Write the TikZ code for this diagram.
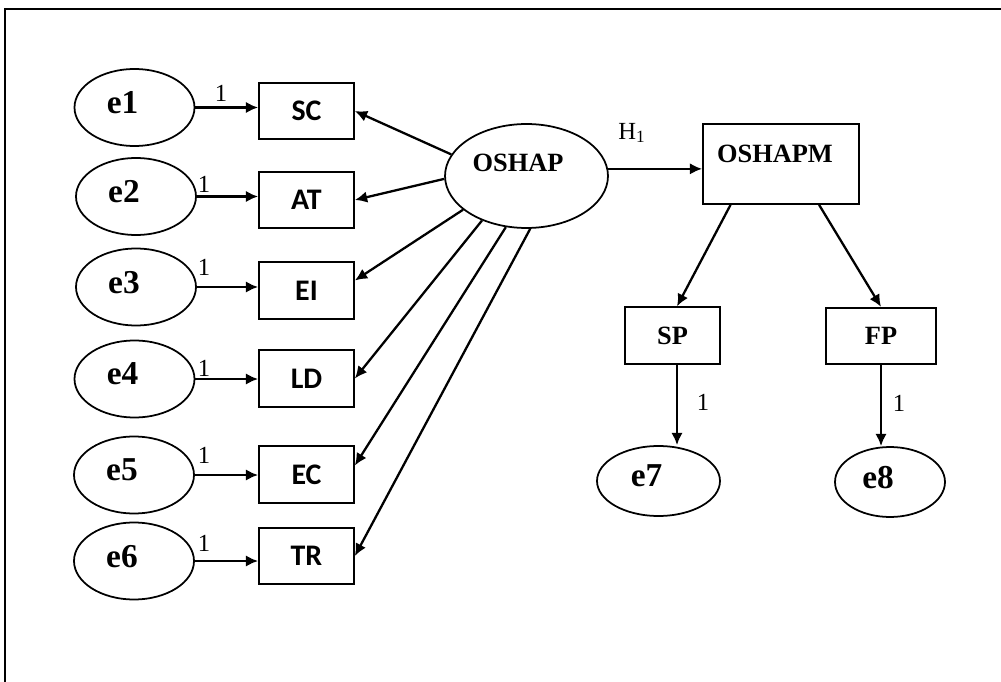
\documentclass[tikz,border=0pt]{standalone}
\usepackage{fontspec}
\setmainfont{Liberation Serif}
\newfontfamily\calibfont{Carlito}
\usetikzlibrary{positioning,shapes.geometric,arrows.meta}

\begin{document}
\begin{tikzpicture}[x=0.02cm, y=-0.02cm,
    errvar/.style={draw, ellipse, line width=1pt, minimum width=2.4cm, minimum height=1.54cm,
        inner sep=0pt, text depth=0.2cm, font=\fontsize{19}{19}\selectfont\bfseries,
        execute at end node={\hspace*{0.48cm}}},
    indic/.style={draw, rectangle, line width=1pt, minimum width=1.9cm, minimum height=1.13cm,
        inner sep=0pt, font=\calibfont\fontsize{17}{17}\selectfont\bfseries},
    outbox/.style={draw, rectangle, line width=1pt, minimum height=1.13cm, inner sep=0pt,
        font=\fontsize{15}{15}\selectfont\bfseries},
    boldtxt/.style={inner sep=0pt, font=\fontsize{15}{15}\selectfont\bfseries},
    one/.style={inner sep=0pt, font=\fontsize{14}{14}\selectfont},
    arr/.style={line width=1.3pt, -{Latex[length=7pt,width=6.5pt]}}]
    \useasboundingbox (0,0) rectangle (1001,682);

    % frame
    \draw[line width=1.5pt] (5,682) -- (5,9) -- (1001,9);

    % error terms
    \node[errvar] (e1) at (134.5,107.5) {e1};
    \node[errvar] (e2) at (136,196.5) {e2};
    \node[errvar] (e3) at (136,287) {e3};
    \node[errvar] (e4) at (134.5,379) {e4};
    \node[errvar] (e5) at (134,475) {e5};
    \node[errvar] (e6) at (134,561) {e6};

    % indicators
    \node[indic] (SC) at (306.5,111) {SC};
    \node[indic] (AT) at (306.5,200) {AT};
    \node[indic] (EI) at (306.5,290.5) {EI};
    \node[indic] (LD) at (306.5,378.5) {LD};
    \node[indic] (EC) at (306.5,474.5) {EC};
    \node[indic] (TR) at (306.5,556) {TR};

    % latent variable and mediator
    \node[draw, ellipse, line width=1pt, minimum width=3.26cm, minimum height=2.08cm] (OSHAP) at (526.5,176) {};
    \node[boldtxt] (OSHAPlbl) at (518,163) {OSHAP};
    \node[draw, rectangle, line width=1pt, minimum width=3.12cm, minimum height=1.6cm] (OSHAPM) at (781,164) {};
    \node[boldtxt] (OSHAPMlbl) at (775,154) {OSHAPM};

    \node[outbox, minimum width=1.9cm] (SP) at (672.5,335.5) {SP};
    \node[outbox, minimum width=2.2cm] (FP) at (881,336) {FP};
    \node[errvar, minimum width=2.46cm, minimum height=1.4cm] (e7) at (658.5,481) {e7};
    \node[errvar, minimum width=2.2cm, minimum height=1.4cm] (e8) at (890,482) {e8};

    % error paths
    \draw[arr] (e1) -- (e1 -| SC.west);
    \draw[arr] (e2) -- (e2 -| AT.west);
    \draw[arr] (e3) -- (e3 -| EI.west);
    \draw[arr] (e4) -- (e4 -| LD.west);
    \draw[arr] (e5) -- (e5 -| EC.west);
    \draw[arr] (e6) -- (e6 -| TR.west);
    \node[one] (w1) at (221,93) {1};
    \node[one] (w2) at (204,184) {1};
    \node[one] (w3) at (204,267) {1};
    \node[one] (w4) at (204,368) {1};
    \node[one] (w5) at (204,455) {1};
    \node[one] (w6) at (204,543) {1};

    % loadings
    \draw[arr] (OSHAP.164) -- (SC.east);
    \draw[arr] (OSHAP.182) -- (AT.east);
    \draw[arr] (OSHAP.208) -- ([yshift=0.2cm]EI.east);
    \draw[arr] (OSHAP.225) -- (LD.east);
    \draw[arr] (OSHAP.248) -- ([yshift=0.18cm]EC.east);
    \draw[arr] (OSHAP.274) -- (TR.east);

    % structural part
    \draw[arr] (OSHAP.5) -- (OSHAP.5 -| OSHAPM.west);
    \node[one] (h1) at (632,133) {H\textsubscript{1}};
    \draw[arr] (OSHAPM.219) -- ([xshift=0.09cm]SP.north);
    \draw[arr] (OSHAPM.313) -- (FP.north);
    \draw[arr] ([xshift=0.09cm]SP.south) -- ([xshift=0.09cm]SP.south |- e7.north);
    \draw[arr] (FP.south) -- (FP.south |- e8.north);
    \node[one] (w7) at (703,402) {1};
    \node[one] (w8) at (899,403) {1};
\end{tikzpicture}
\end{document}
